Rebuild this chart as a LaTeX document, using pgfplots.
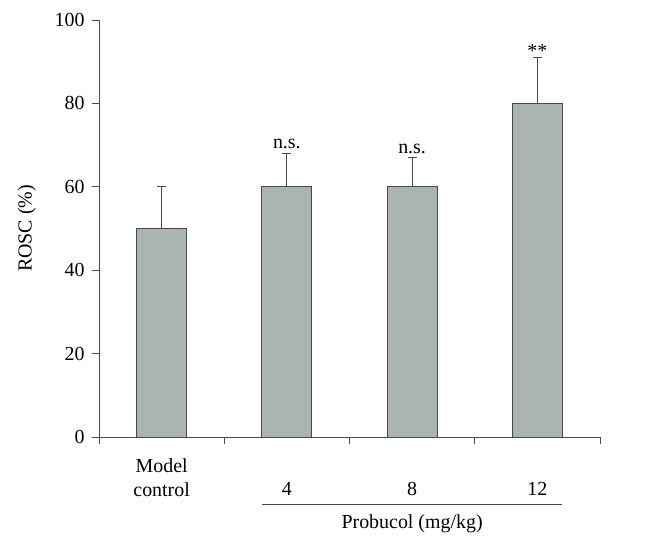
\documentclass[border=0pt]{standalone}
\usepackage{fontspec}
\setmainfont{Liberation Serif}
\usepackage{pgfplots}
\pgfplotsset{compat=1.18}
\definecolor{barfill}{HTML}{AAB5B3}
\definecolor{edge}{HTML}{4A4A4A}
\begin{document}
\begin{tikzpicture}[font=\fontsize{20}{24}\selectfont]
\useasboundingbox (-99bp,-110bp) rectangle (559bp,437bp);
\begin{axis}[
  at={(0,0)}, anchor=south west,
  scale only axis, width=501bp, height=417bp,
  xmin=-0.5, xmax=3.5, ymin=0, ymax=100,
  axis x line*=bottom, axis y line*=left,
  axis line style={edge, line width=0.8pt},
  ytick={0,20,...,100},
  xtick={-0.5,0.5,1.5,2.5,3.5}, xticklabels={},
  extra x ticks={0,1,2,3},
  extra x tick labels={Model\\control,\phantom{M}\\4,\phantom{M}\\8,\phantom{M}\\12},
  extra x tick style={major tick length=0pt, tick style={draw=none},
     xticklabel style={align=center, yshift=-18bp}},
  tick align=outside, major tick length=7bp,
  tick style={edge, line width=0.8pt},
  /pgf/number format/assume math mode=true,
  yticklabel style={xshift=-4bp},
  ylabel={ROSC (\%)},
  y label style={at={(axis description cs:-0.144,0.5)}, anchor=center},
  clip=false,
]
\addplot[ybar, bar width=50bp, fill=barfill, draw=edge, line width=0.8pt,
  error bars/.cd, y dir=plus, y explicit,
  error bar style={edge, line width=0.8pt},
  error mark options={rotate=90, mark size=4.5bp, edge, line width=0.8pt}]
  coordinates {(0,50) +- (0,10) (1,60) +- (0,8) (2,60) +- (0,7) (3,80) +- (0,11)};
\node[anchor=south, inner sep=4bp] at (axis cs:1,68) {n.s.};
\node[anchor=south, inner sep=4bp] at (axis cs:2,67) {n.s.};
\node[anchor=south, inner sep=0bp] at (axis cs:3,91) {**};
\draw[edge, line width=0.8pt] ([yshift=-67bp]axis cs:0.8,0) -- ([yshift=-67bp]axis cs:3.2,0);
\node[anchor=center] at ([yshift=-87bp]axis cs:2,0) {Probucol (mg/kg)};
\end{axis}
\end{tikzpicture}
\end{document}
